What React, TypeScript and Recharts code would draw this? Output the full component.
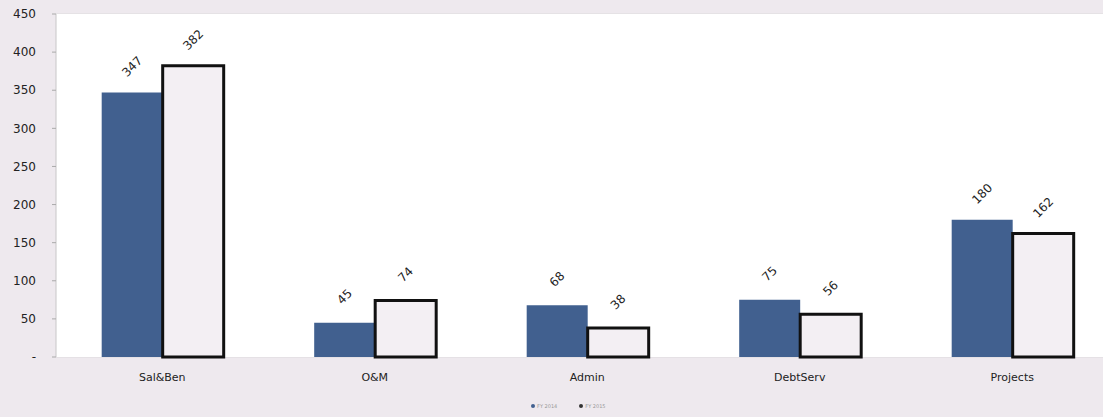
import React from 'react';
import { BarChart, Bar, XAxis, YAxis, CartesianGrid, LabelList } from 'recharts';

const categories = ['Sal&Ben', 'O&M', 'Admin', 'DebtServ', 'Projects'];
const seriesA = [347, 45, 68, 75, 180];
const seriesB = [382, 74, 38, 56, 162];
const yTicks = [0, 50, 100, 150, 200, 250, 300, 350, 400, 450];
const seriesNames = ['FY 2014', 'FY 2015'];

const data = categories.map((c, i) => ({ name: c, a: seriesA[i], b: seriesB[i] }));

const RotLabel = (props: any) => {
  const { x, y, width, value } = props;
  const cx = x + width / 2;
  const cy = y - 26;
  return (
    <text x={cx} y={cy} transform={`rotate(-45 ${cx} ${cy})`} textAnchor="middle" dominantBaseline="central" fontSize={12} fill="#222" fontFamily="'DejaVu Sans', sans-serif">
      {value}
    </text>
  );
};

export default function App() {
  return (
    <div style={{ position: 'absolute', left: 0, top: 0, width: 1103, height: 417, background: '#eee9ee', overflow: 'hidden' }}>
      <BarChart width={1103} height={417} data={data} margin={{ top: 14, right: -15.5, bottom: 30, left: 4 }} barCategoryGap="21.5%" barGap={0}>
        <rect x={56} y={14} width={1047} height={343} fill="#ffffff" />
        <CartesianGrid vertical={false} stroke="#dcdadc" />
        <XAxis dataKey="name" height={30} tickLine={false} axisLine={false} tick={{ fontSize: 11, fill: '#222', fontFamily: "'DejaVu Sans', sans-serif" }} tickMargin={10} />
        <YAxis domain={[0, 450]} ticks={yTicks} width={52} axisLine={{ stroke: '#c8c6c8' }} tickLine={{ stroke: '#aaa' }} tickSize={4} tickMargin={16} interval={0}
          tickFormatter={(v: number) => (v === 0 ? '-' : String(v))}
          tick={{ fontSize: 12, fill: '#222', fontFamily: "'DejaVu Sans', sans-serif" }} />
        <Bar dataKey="a" fill="#41608f" isAnimationActive={false}>
          <LabelList dataKey="a" content={RotLabel} />
        </Bar>
        <Bar dataKey="b" fill="#f3eff3" stroke="#111" strokeWidth={3} isAnimationActive={false}>
          <LabelList dataKey="b" content={RotLabel} />
        </Bar>
      </BarChart>
      <div style={{ position: 'absolute', left: 531, top: 403, display: 'flex', gap: 22, fontSize: 5, color: '#999', fontFamily: "'DejaVu Sans', sans-serif" }}>
        <span style={{ display: 'flex', alignItems: 'center' }}>
          <span style={{ width: 4, height: 4, borderRadius: 2, background: '#41608f', marginRight: 2 }} />{seriesNames[0]}
        </span>
        <span style={{ display: 'flex', alignItems: 'center' }}>
          <span style={{ width: 4, height: 4, borderRadius: 2, background: '#333', marginRight: 2 }} />{seriesNames[1]}
        </span>
      </div>
    </div>
  );
}
